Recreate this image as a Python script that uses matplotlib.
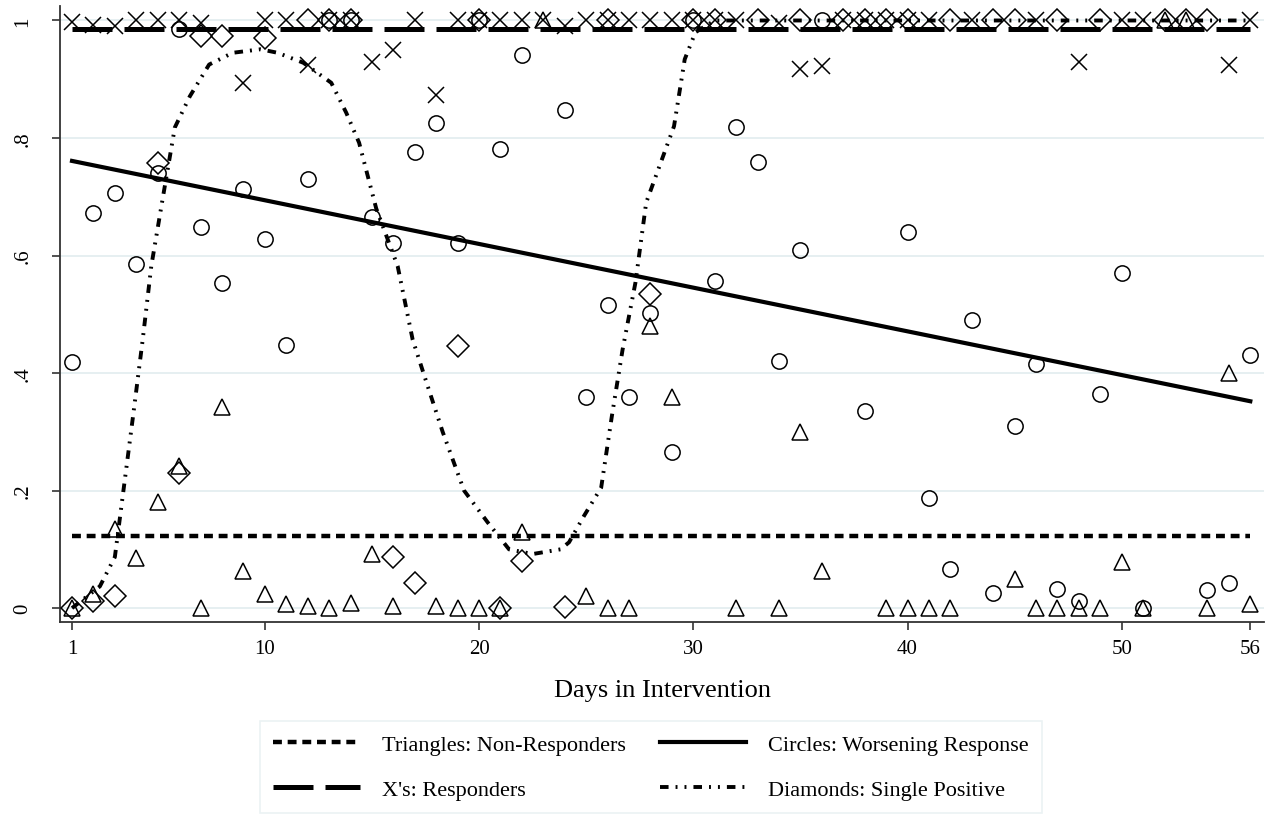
import numpy as np
import matplotlib.pyplot as plt

# ---- data ----
tri_day = [1, 2, 3, 4, 5, 6, 7, 8, 9, 10, 11, 12, 13, 14, 15, 16, 18, 19, 20, 21, 22, 23,
           25, 26, 27, 28, 29, 32, 34, 35, 36, 39, 40, 41, 42, 45, 46, 47, 48, 49, 50, 51,
           52, 53, 54, 55, 56]
tri_val = [0, 0.024, 0.134, 0.085, 0.18, 0.242, 0, 0.342, 0.063, 0.024, 0.007, 0.003, 0.001,
           0.009, 0.092, 0.003, 0.003, 0, 0, 0, 0.129, 1.0, 0.02, 0, 0, 0.48, 0.36, 0, 0,
           0.30, 0.063, 0, 0, 0, 0, 0.05, 0, 0, 0, 0, 0.079, 0, 1.0, 1.0, 0, 0.40, 0.007]

x_day = [1, 2, 3, 4, 5, 6, 7, 9, 10, 11, 12, 13, 14, 15, 16, 17, 18, 19, 20, 21, 22, 23,
         24, 25, 26, 27, 28, 29, 30, 31, 32, 34, 35, 36, 37, 38, 39, 40, 41, 43, 46, 48,
         50, 51, 55, 56]
x_val = [0.998, 0.993, 0.99, 1, 1, 1, 0.995, 0.893, 1, 1, 0.924, 1, 1, 0.929, 0.95, 1,
         0.874, 1, 1, 1, 1, 1, 0.99, 1, 1, 1, 1, 1, 1, 1, 1, 0.995, 0.917, 0.922, 1, 1, 1,
         1, 1, 1, 1, 0.93, 1, 1, 0.925, 1]

cir_day = [1, 2, 3, 4, 5, 6, 7, 8, 9, 10, 11, 12, 13, 14, 15, 16, 17, 18, 19, 20, 21, 22,
           24, 25, 26, 27, 28, 29, 30, 31, 32, 33, 34, 35, 36, 38, 40, 41, 42, 43, 44, 45,
           46, 47, 48, 49, 50, 51, 54, 55, 56]
cir_val = [0.418, 0.673, 0.707, 0.585, 0.74, 0.985, 0.648, 0.553, 0.714, 0.628, 0.447,
           0.731, 1, 1, 0.665, 0.622, 0.777, 0.825, 0.622, 1, 0.782, 0.942, 0.847, 0.36,
           0.515, 0.36, 0.503, 0.266, 1, 0.557, 0.818, 0.76, 0.42, 0.61, 1, 0.335, 0.64,
           0.187, 0.066, 0.49, 0.026, 0.31, 0.415, 0.032, 0.012, 0.365, 0.57, 0, 0.03,
           0.043, 0.43]

dia_day = [1, 2, 3, 5, 6, 7, 8, 10, 12, 13, 14, 16, 17, 19, 20, 21, 22, 24, 26, 28, 30,
           31, 33, 35, 37, 38, 39, 40, 42, 44, 45, 47, 49, 52, 53, 54]
dia_val = [0, 0.012, 0.02, 0.758, 0.23, 0.973, 0.973, 0.97, 1, 1, 1, 0.087, 0.043, 0.446,
           1, 0, 0.08, 0.002, 1, 0.535, 1, 1, 1, 1, 1, 1, 1, 1, 1, 1, 1, 1, 1, 1, 1, 1]

# summary lines
tri_mean = 0.122
x_mean = 0.986
fit_day = [1, 56]
fit_val = [0.761, 0.352]
# smoothed curve for the diamonds (traced)
smooth_day = [1, 2.3, 3.0, 3.4, 3.85, 4.3, 4.7, 5.2, 5.8, 6.5, 7.4, 8.5, 9.8, 10.6, 11.8,
              13.1, 13.8, 14.4, 15.2, 16.2, 16.9, 17.6, 18.3, 19.3, 20.4, 21.4, 22.5, 23.8,
              24.2, 24.9, 25.7, 26.2, 26.7, 27.3, 27.8, 29.1, 29.6, 30.1, 31, 56]
smooth_val = [0, 0.037, 0.087, 0.2, 0.327, 0.457, 0.582, 0.69, 0.818, 0.871, 0.925, 0.945,
              0.951, 0.945, 0.928, 0.894, 0.843, 0.792, 0.68, 0.582, 0.457, 0.378, 0.3,
              0.2, 0.146, 0.1, 0.092, 0.1, 0.112, 0.157, 0.205, 0.327, 0.44, 0.554, 0.69,
              0.82, 0.934, 0.98, 1.0, 1.0]

plt.rcParams['font.family'] = ['Liberation Serif', 'DejaVu Serif']

fig = plt.figure(figsize=(12.77, 8.2), dpi=100)
ax = fig.add_axes([0.047, 0.240, 0.943, 0.751])

grid_c = '#e6eff1'
for v in [0, 0.2, 0.4, 0.6, 0.8, 1.0]:
    ax.axhline(v, color=grid_c, lw=1.4, zorder=0)

mk = dict(linestyle='none', markerfacecolor='none', markeredgecolor='black',
          markeredgewidth=1.1, zorder=3)
ax.plot(tri_day, tri_val, marker='^', markersize=12, **mk)
ax.plot(cir_day, cir_val, marker='o', markersize=11, **mk)
ax.plot(dia_day, dia_val, marker='D', markersize=11, **mk)
ax.plot(x_day, x_val, marker='x', markersize=12, linestyle='none', color='black',
        markeredgewidth=1.1, zorder=3)

l_tri, = ax.plot([1, 56], [tri_mean, tri_mean], color='black', lw=3.2,
                 dashes=(2.0, 1.3), zorder=4, label='Triangles: Non-Responders')
l_cir, = ax.plot(fit_day, fit_val, color='black', lw=3.0, zorder=4,
                 label='Circles: Worsening Response')
l_x, = ax.plot([1, 56], [x_mean, x_mean], color='black', lw=3.6,
               dashes=(8, 2.4), zorder=4, label="X's: Responders")
l_dia, = ax.plot(smooth_day, smooth_val, color='black', lw=2.8,
                 dashes=(2.2, 1.8, 0.5, 1.8, 0.5, 1.8), zorder=4,
                 label='Diamonds: Single Positive')

ax.set_xlim(0.44, 56.65)
ax.set_ylim(-0.024, 1.024)
ax.set_xticks([1, 10, 20, 30, 40, 50, 56])
ax.set_yticks([0, 0.2, 0.4, 0.6, 0.8, 1.0])
ax.set_yticklabels(['0', '.2', '.4', '.6', '.8', '1'], rotation=90, va='center')
ax.tick_params(axis='both', labelsize=15, length=6, width=1.2, color='#333333')
ax.tick_params(axis='x', pad=6)
ax.tick_params(axis='y', pad=14)
for s in ['top', 'right']:
    ax.spines[s].set_visible(False)
for s in ['left', 'bottom']:
    ax.spines[s].set_linewidth(1.3)
    ax.spines[s].set_color('#333333')
ax.set_xlabel('Days in Intervention', fontsize=19, labelpad=15)

leg = fig.legend(handles=[l_tri, l_x, l_cir, l_dia], ncol=2, loc='center',
                 bbox_to_anchor=(0.51, 0.0635), fontsize=16, frameon=True,
                 fancybox=False, edgecolor='#e6eff1', handlelength=3.9,
                 columnspacing=1.5, handletextpad=1.0, borderpad=0.6,
                 labelspacing=1.1)
leg.get_frame().set_linewidth(1.2)

fig.savefig('out.png', dpi=100)
